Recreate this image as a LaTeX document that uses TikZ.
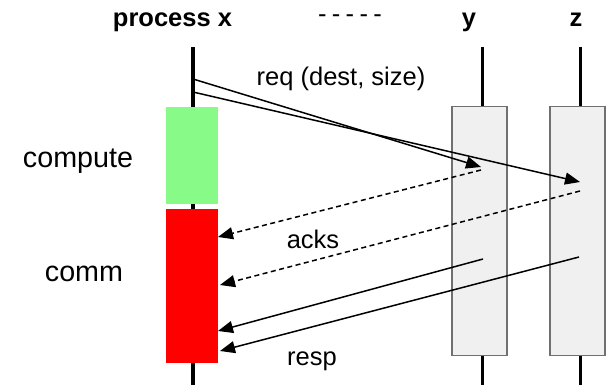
\documentclass[tikz,border=0pt]{standalone}
\usepackage{fontspec}
\setmainfont{Liberation Sans}
\usetikzlibrary{arrows.meta}
\definecolor{compgreen}{HTML}{88FA88}
\definecolor{boxgray}{HTML}{F0F0F0}
\definecolor{edgegray}{HTML}{707070}
\tikzset{
  lifeline/.style={line width=3.6pt},
  procbox/.style={draw=edgegray, line width=1.1pt, fill=boxgray, inner sep=0pt, minimum width=55pt, minimum height=249pt},
  phasebox/.style={inner sep=0pt, minimum width=52pt},
  msg/.style={line width=1.5pt, -{Triangle[length=15pt,width=12pt]}},
  ack/.style={msg, dash pattern=on 5pt off 3.5pt},
  title/.style={font=\fontsize{25.5}{30}\selectfont\bfseries, anchor=base},
  lbl/.style={font=\fontsize{25.5}{30}\selectfont, anchor=base},
  side/.style={font=\fontsize{28.7}{34}\selectfont, anchor=base},
}
\newcommand{\hy}{-\kern5.3pt}
\begin{document}
\begin{tikzpicture}[x=1pt,y=-1pt]
\useasboundingbox (0,0) rectangle (609,385);
% titles
\node[title] (tx) at (172.5,27) {process x};
\node[lbl] (tdots) at (350,23) {\hy\hy\hy\hy-};
\node[title] (ty) at (469,27) {y};
\node[title] (tz) at (576,27) {z};
% lifelines
\coordinate (xtop) at (193,47); \coordinate (xbot) at (193,385);
\coordinate (ytop) at (482.5,47); \coordinate (ybot) at (482.5,385);
\coordinate (ztop) at (580.5,47); \coordinate (zbot) at (580.5,385);
\draw[lifeline] (xtop) -- (xbot);
\draw[lifeline] (ytop) -- (ybot);
\draw[lifeline] (ztop) -- (zbot);
% boxes
\node[procbox] (ybox) at (479.5,231) {};
\node[procbox] (zbox) at (577.5,231) {};
\node[phasebox, fill=compgreen, minimum height=97pt] (comp) at (192,155.5) {};
\node[phasebox, fill=red, minimum height=154pt] (comm) at (192,286) {};
% side labels
\node[side] (lcomp) at (78,167) {compute};
\node[side] (lcomm) at (84,281) {comm};
% message endpoints
\coordinate (r1s) at (193,79);  \coordinate (r1e) at (481,167);
\coordinate (r2s) at (193,92);  \coordinate (r2e) at (580,182);
\coordinate (a1s) at (481,170); \coordinate (a1e) at (218,237);
\coordinate (a2s) at (580,191); \coordinate (a2e) at (220,285);
\coordinate (p1s) at (483,259); \coordinate (p1e) at (218,331);
\coordinate (p2s) at (579,257); \coordinate (p2e) at (220,351);
\draw[msg] (r1s) -- (r1e);
\draw[msg] (r2s) -- (r2e);
\draw[ack] (a1s) -- (a1e);
\draw[ack] (a2s) -- (a2e);
\draw[msg] (p1s) -- (p1e);
\draw[msg] (p2s) -- (p2e);
% labels
\node[lbl] (lreq) at (341,85) {req (dest, size)};
\node[lbl] (lack) at (313,248) {acks};
\node[lbl] (lresp) at (312,365) {resp};
\end{tikzpicture}
\end{document}
